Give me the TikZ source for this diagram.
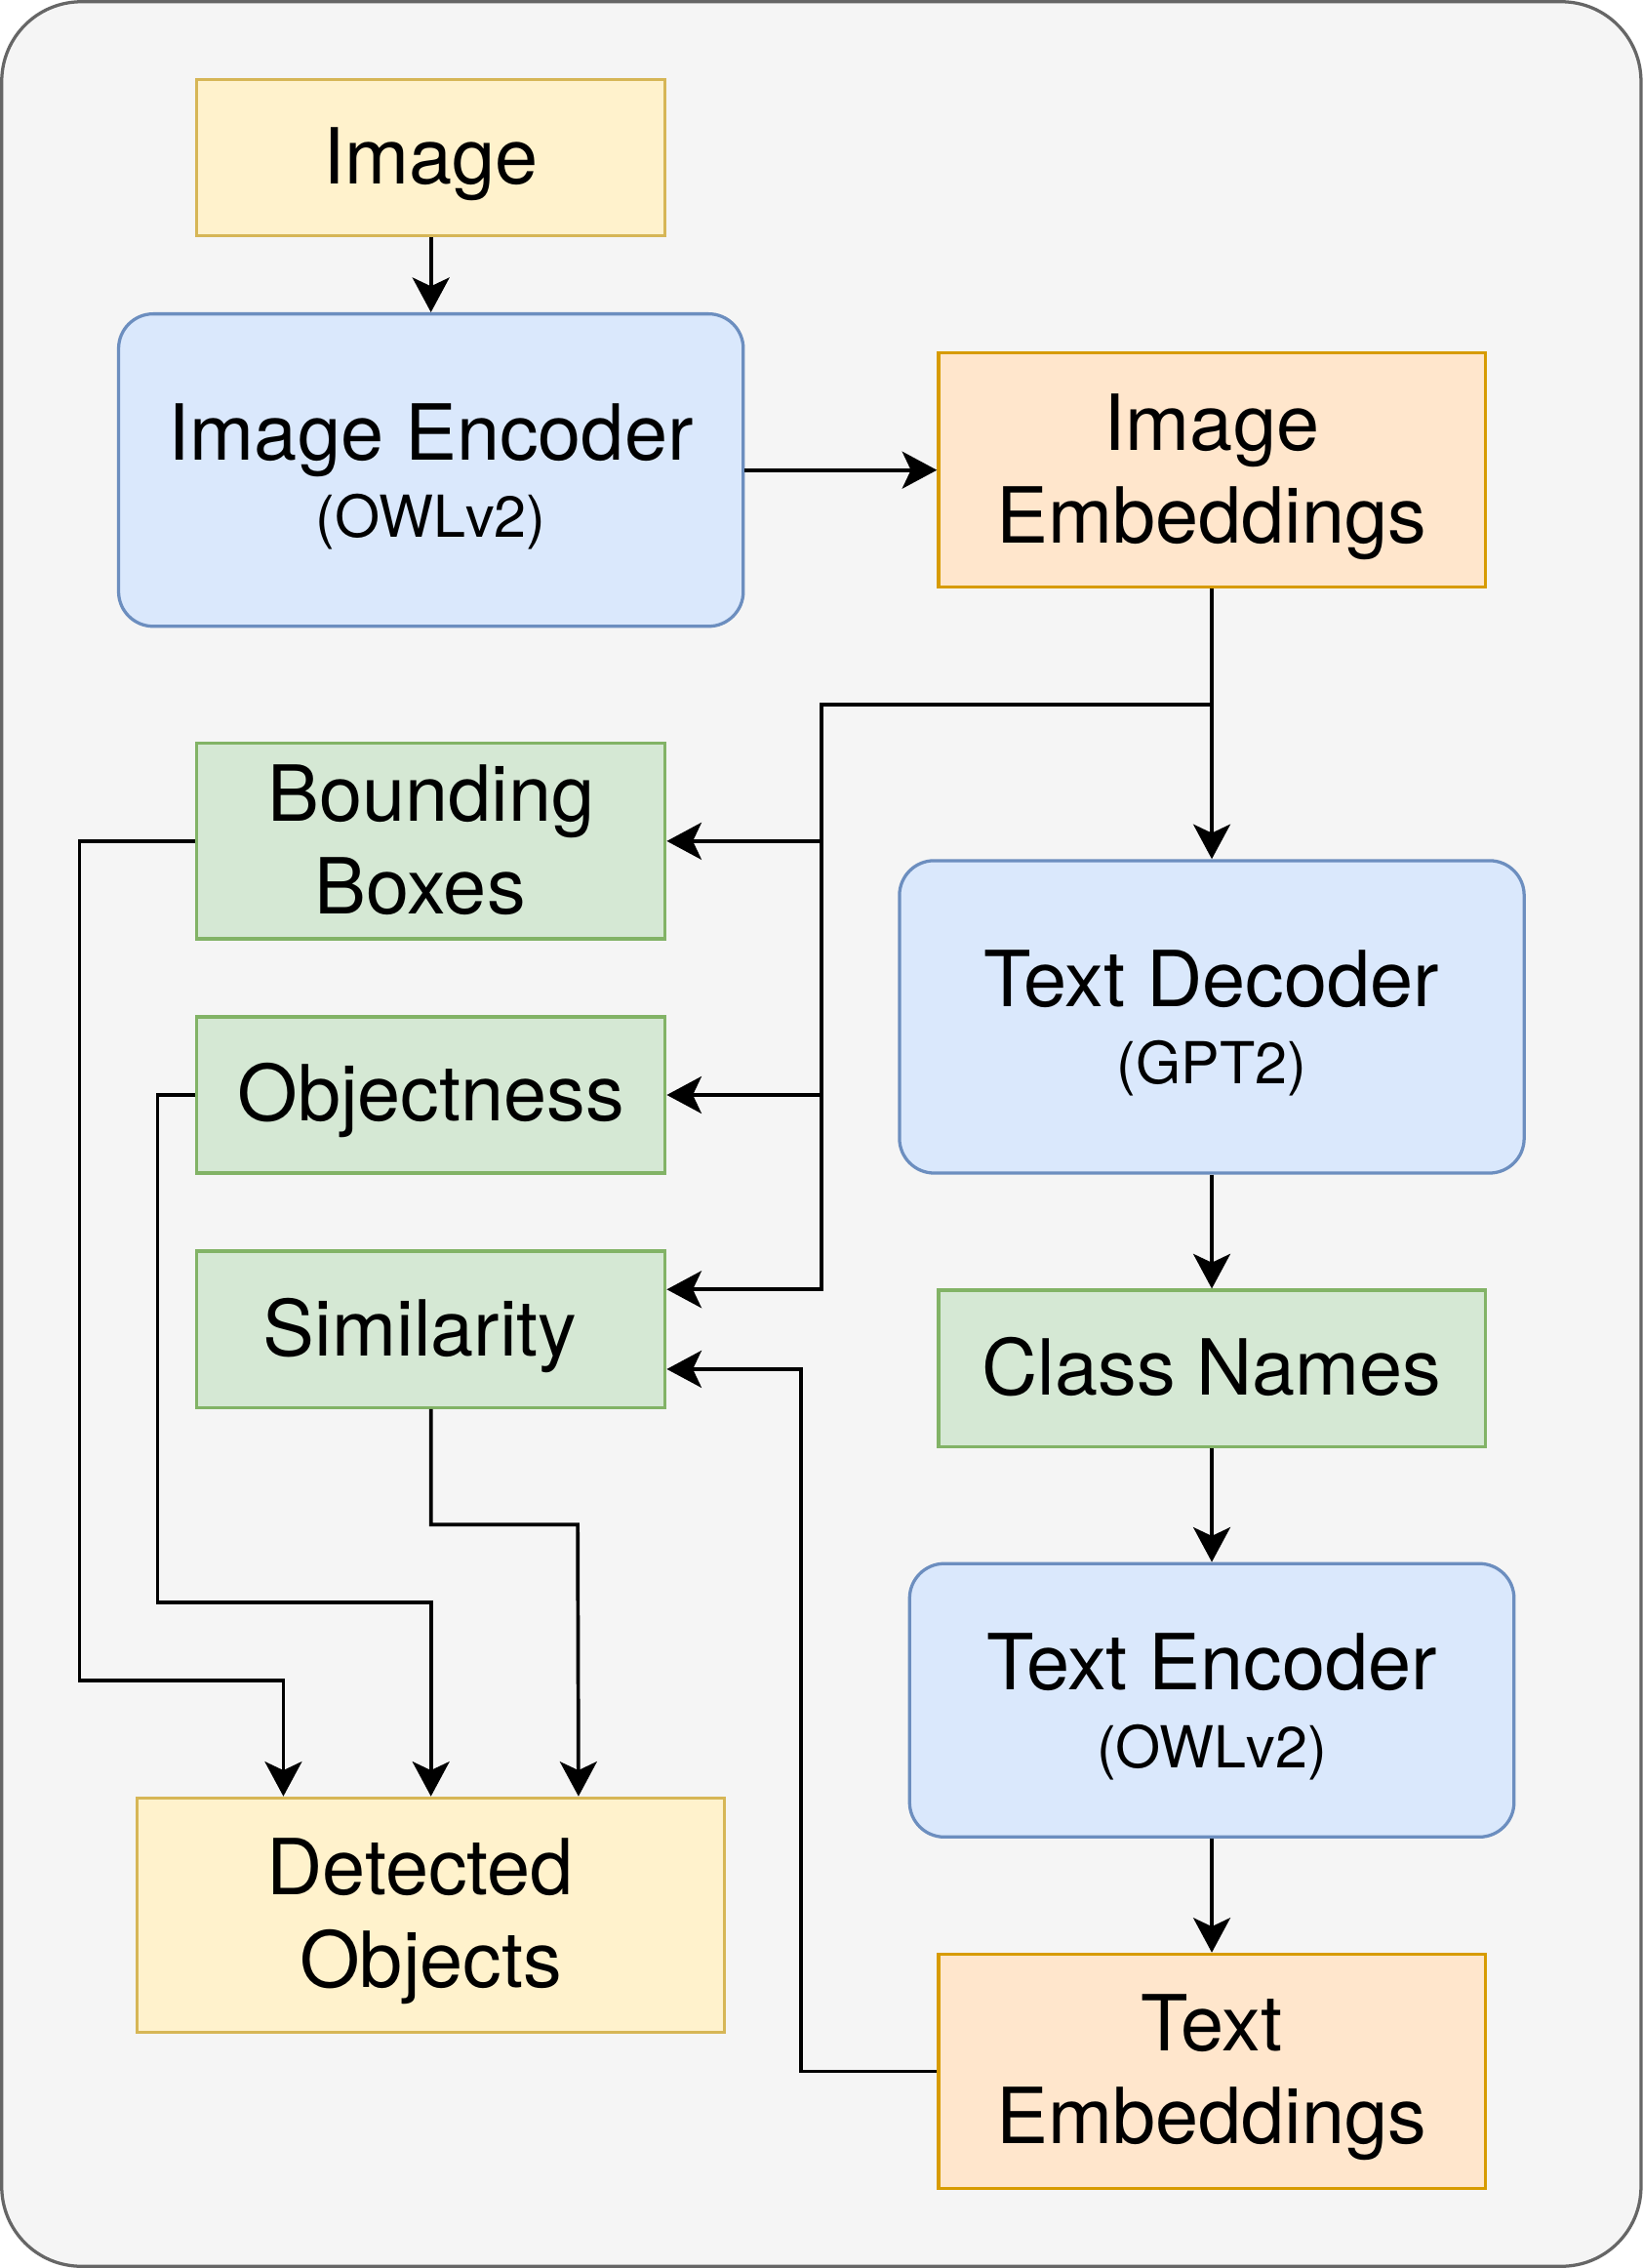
\documentclass[tikz,border=0pt]{standalone}
\usepackage{fontspec}
\setmainfont{TeX Gyre Heros}
\usetikzlibrary{arrows.meta,calc}
\definecolor{outerF}{HTML}{F5F5F5}
\definecolor{outerD}{HTML}{666666}
\definecolor{yelF}{HTML}{FFF2CC}
\definecolor{yelD}{HTML}{D6B656}
\definecolor{bluF}{HTML}{DAE8FC}
\definecolor{bluD}{HTML}{6C8EBF}
\definecolor{oraF}{HTML}{FFE6CC}
\definecolor{oraD}{HTML}{D79B00}
\definecolor{grnF}{HTML}{D5E8D4}
\definecolor{grnD}{HTML}{82B366}
\newcommand\bst{\rule[-0.22em]{0pt}{1.12em}}
\newcommand\smallfnt{\fontsize{20}{24}\selectfont}
\newcommand\tsp{\hspace*{0.278em}}
\tikzset{
  x=0.5pt, y=-0.5pt,
  boxbase/.style={draw, line width=1.1pt, align=center, inner sep=0pt, text=black,
    font=\fontsize{26.75}{32.1}\selectfont},
  ybox/.style={boxbase, fill=yelF, draw=yelD},
  obox/.style={boxbase, fill=oraF, draw=oraD},
  gbox/.style={boxbase, fill=grnF, draw=grnD},
  blbox/.style={boxbase, fill=bluF, draw=bluD, rounded corners=12pt},
  conn/.style={line width=1.25pt, draw=black, -{Stealth[length=12pt,width=12.8pt,inset=3pt]}},
}
\begin{document}
\begin{tikzpicture}
\fill[white] (0,0) rectangle (1136,1568);
\draw[fill=outerF, draw=outerD, line width=1.1pt, rounded corners=27.5pt] (1.2,1.2) rectangle (1134.8,1566.8);

\node[ybox, minimum width=162pt, minimum height=54pt] (img) at (298,109) {\bst Image};
\node[blbox, minimum width=216pt, minimum height=108pt] (ienc) at (298,325)
  {\bst Image Encoder\\[-5.35pt]{\smallfnt\bst (OWLv2)}};
\node[obox, minimum width=189pt, minimum height=81pt] (iemb) at (838,325) {\bst Image\\\bst Embeddings};
\node[gbox, minimum width=162pt, minimum height=67.5pt] (bbox) at (298,581.5) {\bst Bounding\\\bst Boxes\tsp};
\node[gbox, minimum width=162pt, minimum height=54pt] (obj) at (298,757) {\bst Objectness};
\node[gbox, minimum width=162pt, minimum height=54pt] (sim) at (298,919) {\bst Similarity\tsp};
\node[blbox, minimum width=216pt, minimum height=108pt] (tdec) at (838,703)
  {\bst Text Decoder\\[-5.35pt]{\smallfnt\bst (GPT2)}};
\node[gbox, minimum width=189pt, minimum height=54pt] (cls) at (838,946) {\bst Class Names};
\node[blbox, minimum width=209pt, minimum height=94.5pt] (tenc) at (838,1175.5)
  {\bst Text Encoder\\[-5.35pt]{\smallfnt\bst (OWLv2)}};
\node[obox, minimum width=189pt, minimum height=81pt] (temb) at (838,1432) {\bst Text\\\bst Embeddings};
\node[ybox, minimum width=203pt, minimum height=81pt] (det) at (298,1324) {\bst Detected\tsp\\\bst Objects};

% lanes
\coordinate (sp) at (568,487);
\coordinate (tk) at (554,1432);
\coordinate (l1) at (55,1162);
\coordinate (l2) at (109,1108);
\coordinate (l3) at (399.5,1054);
\coordinate (simA) at ($(sim.north east)!0.25!(sim.south east)$);
\coordinate (simB) at ($(sim.north east)!0.75!(sim.south east)$);
\coordinate (detA) at ($(det.north west)!0.25!(det.north east)$);
\coordinate (detC) at ($(det.north west)!0.75!(det.north east)$);

\draw[conn] (img.south) -- (ienc.north);
\draw[conn] (ienc.east) -- (iemb.west);
\draw[conn] (iemb.south) -- (tdec.north);
\draw[conn] (sp -| iemb.south) -- (sp) |- (simA);
\draw[conn] (sp |- bbox.east) -- (bbox.east);
\draw[conn] (sp |- obj.east) -- (obj.east);
\draw[conn] (tdec.south) -- (cls.north);
\draw[conn] (cls.south) -- (tenc.north);
\draw[conn] (tenc.south) -- (temb.north);
\draw[conn] (temb.west) -- (tk) |- (simB);
\draw[conn] (bbox.west) -| (l1) -| (detA);
\draw[conn] (obj.west) -| (l2) -| (det.north);
\draw[conn] (sim.south) |- (l3) -- (detC);
\end{tikzpicture}
\end{document}
